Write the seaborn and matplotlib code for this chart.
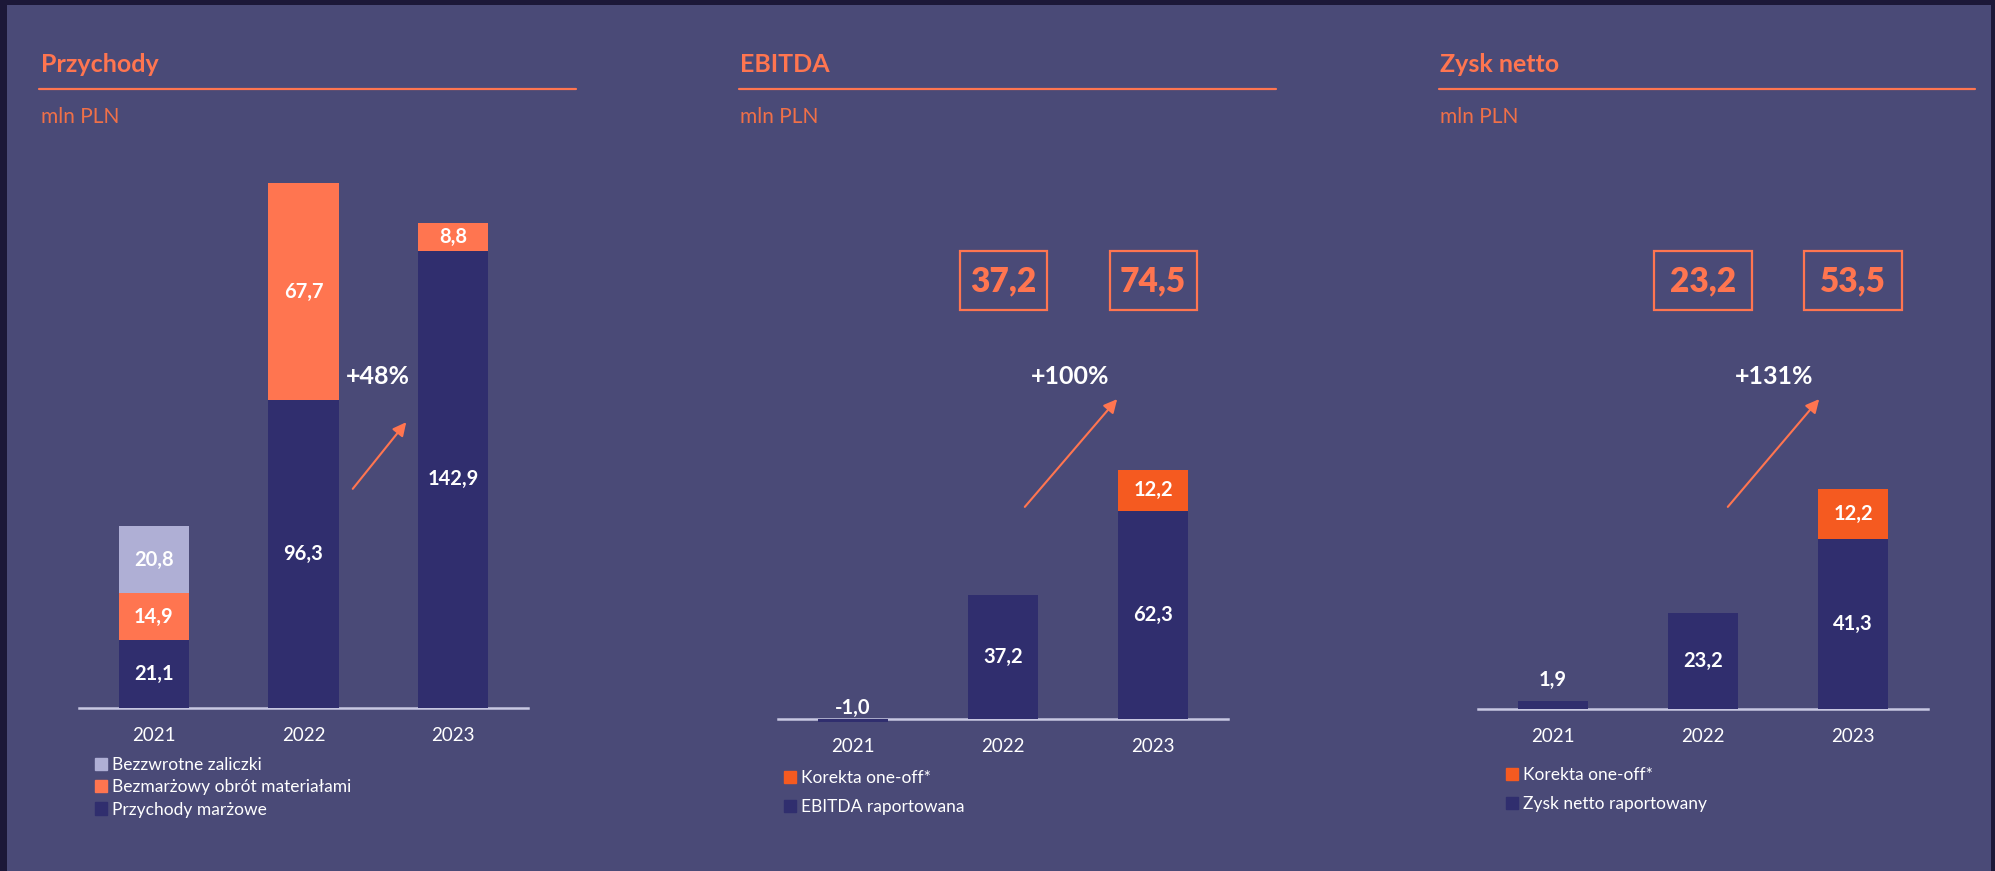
import numpy as np
import pandas as pd
import matplotlib
matplotlib.use("Agg")
import matplotlib.pyplot as plt
import matplotlib.transforms as mtransforms
from matplotlib.patches import Rectangle, Patch, FancyArrowPatch
from matplotlib.lines import Line2D
import seaborn as sns

# ---------------- data ----------------
years = ["2021", "2022", "2023"]

rev_marzowe = [21.1, 96.3, 142.9]
rev_bezmarzowy = [14.9, 67.7, 8.8]
rev_zaliczki = [20.8, 0.0, 0.0]
rev_growth = "+48%"

ebitda_rep = [-1.0, 37.2, 62.3]
ebitda_korekta = [0.0, 0.0, 12.2]
ebitda_box_years = ["2022", "2023"]
ebitda_box_vals = [37.2, 74.5]
ebitda_growth = "+100%"

net_rep = [1.9, 23.2, 41.3]
net_korekta = [0.0, 0.0, 12.2]
net_box_years = ["2022", "2023"]
net_box_vals = [23.2, 53.5]
net_growth = "+131%"

titles = ["Przychody", "EBITDA", "Zysk netto"]
unit = "mln PLN"

# ---------------- style ----------------
W, H = 1995, 871
DARK = "#1c1838"
BG = "#4a4a77"
NAVY = "#302e6e"
ORANGE = "#ff7550"
RED_OR = "#f55a20"
LAV = "#afafd5"
BASE = "#c8c8e2"
WHITE = "#ffffff"

sns.set_style("white")
plt.rcParams["font.family"] = ["Lato", "DejaVu Sans"]

fig = plt.figure(figsize=(W / 100, H / 100), dpi=100)
fig.patch.set_facecolor(DARK)
fig.add_artist(Rectangle((7 / W, 0), (1991 - 7) / W, 1 - 5 / H,
                         transform=fig.transFigure, facecolor=BG,
                         edgecolor="none", zorder=-10))


def fx(px):
    return px / W


def fy(py):
    return 1 - py / H


def fmt(v):
    return f"{v:.1f}".replace(".", ",")


def make_axes(x0, x1, baseline, scale, top=150):
    ax = fig.add_axes([fx(x0), fy(baseline), (x1 - x0) / W, (baseline - top) / H])
    ax.set_facecolor("none")
    ax.set_ylim(0, (baseline - top) / scale)
    return ax


def style_axes(ax, pad):
    ax.set_xlim(-0.5, 2.5)
    for s in ["top", "right", "left"]:
        ax.spines[s].set_visible(False)
    ax.spines["bottom"].set_color(BASE)
    ax.spines["bottom"].set_linewidth(1.8)
    ax.spines["bottom"].set_zorder(0.5)
    ax.set_yticks([])
    ax.tick_params(axis="x", length=0, pad=pad, labelsize=13.5, labelcolor=WHITE)
    ax.set_xlabel("")
    ax.set_ylabel("")


def bars(ax, vals, bottom, color):
    sns.barplot(x=years, y=vals, bottom=bottom, color=color, width=0.47,
                saturation=1, errorbar=None, linewidth=0, ax=ax, clip_on=False,
                zorder=2)


def header(x_title, x_line0, x_line1, title):
    fig.text(fx(x_title), fy(64), title, color=ORANGE, fontsize=18,
             fontweight="bold", ha="left", va="center")
    fig.add_artist(Line2D([fx(x_line0), fx(x_line1)], [fy(89), fy(89)],
                          transform=fig.transFigure, color=ORANGE, lw=1.6))
    fig.text(fx(x_title), fy(117), unit, color="#f07048", fontsize=15,
             ha="left", va="center")


def growth(x, text, p0, p1):
    fig.text(fx(x), fy(376), text, color=WHITE, fontsize=18, fontweight="bold",
             ha="center", va="center")
    fig.add_artist(FancyArrowPatch((fx(p0[0]), fy(p0[1])), (fx(p1[0]), fy(p1[1])),
                                   transform=fig.transFigure, arrowstyle="-|>",
                                   mutation_scale=20, lw=1.5, color=ORANGE))


def boxes(ax, box_years, box_vals, width):
    tr = mtransforms.blended_transform_factory(ax.transData, fig.transFigure)
    for yr, v in zip(box_years, box_vals):
        i = years.index(yr)
        ax.add_artist(Rectangle((i - width / 2, fy(310)), width, (310 - 251) / H,
                                transform=tr, facecolor="none", edgecolor=ORANGE,
                                lw=1.6, clip_on=False))
        ax.text(i, fy(281), fmt(v), transform=tr, color=ORANGE, fontsize=24,
                fontweight="heavy", ha="center", va="center")


def seg_labels(ax, vals, bottom, fs=14.5):
    for i, (v, b) in enumerate(zip(vals, bottom)):
        if v > 0:
            ax.text(i, b + v / 2, fmt(v), color=WHITE, fontsize=fs,
                    fontweight="bold", ha="center", va="center", zorder=4)


LEG = dict(loc="upper left", bbox_transform=fig.transFigure, frameon=False,
           fontsize=12.5, labelcolor=WHITE, handlelength=0.7, handleheight=0.7,
           handletextpad=0.3, borderpad=0, borderaxespad=0)

# ---------------- panel 1: Przychody ----------------
ax1 = make_axes(79, 528, 708, 3.2)
b0 = [0, 0, 0]
b1 = rev_marzowe
b2 = [a + b for a, b in zip(rev_marzowe, rev_bezmarzowy)]
bars(ax1, rev_marzowe, b0, NAVY)
bars(ax1, rev_bezmarzowy, b1, ORANGE)
bars(ax1, rev_zaliczki, b2, LAV)
seg_labels(ax1, rev_marzowe, b0)
seg_labels(ax1, rev_bezmarzowy, b1)
seg_labels(ax1, rev_zaliczki, b2)
style_axes(ax1, 14)
header(41, 39, 576, titles[0])
growth(378, rev_growth, (351, 491), (408, 420))
ax1.legend(handles=[Patch(color=LAV, label="Bezzwrotne zaliczki"),
                    Patch(color=ORANGE, label="Bezmarżowy obrót materiałami"),
                    Patch(color=NAVY, label="Przychody marżowe")],
           bbox_to_anchor=(fx(95), fy(757)), labelspacing=0.36, **LEG)

# ---------------- panel 2: EBITDA ----------------
ax2 = make_axes(778, 1228, 719, 3.345)
bars(ax2, ebitda_rep, [0, 0, 0], NAVY)
bars(ax2, ebitda_korekta, ebitda_rep, RED_OR)
for i, v in enumerate(ebitda_rep):
    if v > 0:
        ax2.text(i, v / 2, fmt(v), color=WHITE, fontsize=14.5, fontweight="bold",
                 ha="center", va="center", zorder=4)
    else:
        ax2.text(i, 0.3, fmt(v), color=WHITE, fontsize=14.5, fontweight="bold",
                 ha="center", va="bottom", zorder=4)
seg_labels(ax2, ebitda_korekta, ebitda_rep)
style_axes(ax2, 14)
header(740, 739, 1276, titles[1])
growth(1070, ebitda_growth, (1023, 509), (1119, 397))
boxes(ax2, ebitda_box_years, ebitda_box_vals, 0.58)
ax2.legend(handles=[Patch(color=RED_OR, label="Korekta one-off*"),
                    Patch(color=NAVY, label="EBITDA raportowana")],
           bbox_to_anchor=(fx(784), fy(770)), labelspacing=0.75, **LEG)

# ---------------- panel 3: Zysk netto ----------------
ax3 = make_axes(1478, 1928, 708.5, 4.109)
bars(ax3, net_rep, [0, 0, 0], NAVY)
bars(ax3, net_korekta, net_rep, RED_OR)
for i, v in enumerate(net_rep):
    if v > 5:
        ax3.text(i, v / 2, fmt(v), color=WHITE, fontsize=14.5, fontweight="bold",
                 ha="center", va="center", zorder=4)
    else:
        ax3.text(i, v + 5.0, fmt(v), color=WHITE, fontsize=14.5, fontweight="bold",
                 ha="center", va="center", zorder=4)
seg_labels(ax3, net_korekta, net_rep)
style_axes(ax3, 14)
header(1440, 1439, 1975, titles[2])
growth(1774, net_growth, (1726, 509), (1821, 397))
boxes(ax3, net_box_years, net_box_vals, 0.647)
ax3.legend(handles=[Patch(color=RED_OR, label="Korekta one-off*"),
                    Patch(color=NAVY, label="Zysk netto raportowany")],
           bbox_to_anchor=(fx(1506), fy(767)), labelspacing=0.75, **LEG)

fig.savefig("out.png", dpi=100, facecolor=fig.get_facecolor())
